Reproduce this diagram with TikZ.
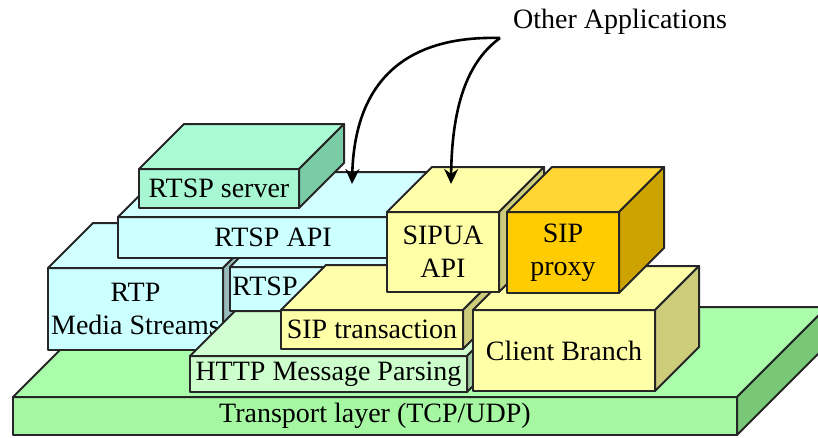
\documentclass[tikz,border=0pt]{standalone}
\usepackage{fontspec}
\setmainfont{Liberation Serif}
\usetikzlibrary{arrows.meta}

\definecolor{trfront}{HTML}{A5F7A1}
\definecolor{trtop}{HTML}{AAFDAA}
\definecolor{trside}{HTML}{78C878}
\definecolor{cyfront}{HTML}{CCFFFF}
\definecolor{cytop}{HTML}{D2FFFF}
\definecolor{cyside}{HTML}{99BBBB}
\definecolor{mnfront}{HTML}{A8F7D3}
\definecolor{mntop}{HTML}{AAFCD5}
\definecolor{mnside}{HTML}{7ACCA6}
\definecolor{htfront}{HTML}{CCFFCC}
\definecolor{httop}{HTML}{D2FFD2}
\definecolor{htside}{HTML}{A3CCA3}
\definecolor{ylfront}{HTML}{FFFFA8}
\definecolor{yltop}{HTML}{FFFFAA}
\definecolor{ylside}{HTML}{CCCC7A}
\definecolor{pxfront}{HTML}{FFCC00}
\definecolor{pxtop}{HTML}{FFD633}
\definecolor{pxside}{HTML}{CCA300}

\newcommand{\layerbox}[8][]{%
	\node[face, fill=#7front, minimum width=#4pt, minimum height=#5pt, anchor=north west] (#2) at #3 {};
	\filldraw[face, fill=#7top] (#2.north west) -- ++(#6pt,#6pt) -- ([shift={(#6pt,#6pt)}]#2.north east) -- (#2.north east) -- cycle;
	\filldraw[face, fill=#7side] (#2.north east) -- ++(#6pt,#6pt) -- ([shift={(#6pt,#6pt)}]#2.south east) -- (#2.south east) -- cycle;
	\node[lbl, #1] (#2-lbl) at (#2.center) {#8};
}

\begin{document}
\begin{tikzpicture}[x=1pt, y=-1pt,
	face/.style={draw=black!85, line width=2pt, line join=round, outer sep=0pt, inner sep=0pt},
	lbl/.style={font=\fontsize{28}{33}\selectfont, align=center, inner sep=0pt},
	arr/.style={line width=2.6pt, -{Stealth[length=15pt,width=14pt]}}]
\useasboundingbox (0,0) rectangle (818,437);
\layerbox{transport}{(13,397)}{724}{38}{90}{tr}{Transport layer (TCP/UDP)}
\layerbox{rtp}{(48,268)}{175}{82}{45}{cy}{RTP\\Media Streams}
\layerbox[xshift=-65pt,yshift=3pt]{rtspmsg}{(230,267)}{200}{44}{45}{cy}{RTSP}
\layerbox{rtspapi}{(118,217)}{310}{41}{45}{cy}{RTSP API}
\layerbox{server}{(139,169)}{160}{39}{45}{mn}{RTSP server}
\layerbox{http}{(190,356)}{277}{36}{45}{ht}{HTTP Message Parsing}
\layerbox{siptrans}{(281,310)}{182}{39}{45}{yl}{SIP transaction}
\layerbox{client}{(473,310)}{182}{81}{44}{yl}{Client Branch}
\layerbox{sipua}{(387,212)}{112}{80}{45}{yl}{SIPUA\\API}
\layerbox{proxy}{(507,212)}{112}{81}{45}{px}{SIP\\proxy}

\node[lbl] (apps) at (620,22) {Other Applications};
\coordinate (fork) at (500,38);
\coordinate (apitip) at (352,184);
\coordinate (uatip) at (451,184);
\draw[arr] (fork) .. controls (430,36) and (355,60) .. (apitip);
\draw[arr] (fork) .. controls (470,60) and (452,100) .. (uatip);
\end{tikzpicture}
\end{document}
